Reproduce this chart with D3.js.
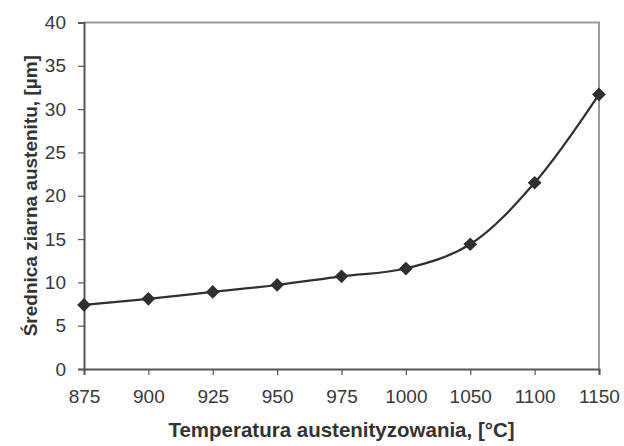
<!DOCTYPE html>
<html>
<head>
<meta charset="utf-8">
<script src="https://cdn.jsdelivr.net/npm/d3@7"></script>
<style>
  body { margin: 0; background: #fff; }
  svg { font-family: "Liberation Sans", Arial, sans-serif; }
</style>
</head>
<body>
<svg width="624" height="446"></svg>
<script>
// data
var temps = ['875', '900', '925', '950', '975', '1000', '1050', '1100', '1150']
var grain = [7.4, 8.1, 8.9, 9.7, 10.7, 11.6, 14.4, 21.5, 31.7]
var yTicks = [0, 5, 10, 15, 20, 25, 30, 35, 40]

var svg = d3.select('svg')
var mLeft = 84, mRight = 599, mTop = 22.5, mBottom = 369

var x = d3.scalePoint().domain(temps).range([mLeft, mRight])
var y = d3.scaleLinear().domain([0, 40]).range([mBottom, mTop])

// frame (top / right lighter)
svg.append('path')
  .attr('d', 'M' + mLeft + ',' + mTop + 'H' + mRight + 'V' + mBottom)
  .attr('fill', 'none')
  .attr('stroke', '#a09894')
  .attr('stroke-width', 2)

// y axis
var yAxis = svg.append('g')
  .attr('transform', 'translate(' + mLeft + ',0)')
  .call(d3.axisLeft(y).tickValues(yTicks).tickSize(6).tickPadding(12))
yAxis.select('.domain').attr('stroke', '#5a5452').attr('stroke-width', 2)
yAxis.selectAll('.tick line').attr('stroke', '#5a5452').attr('stroke-width', 1.2)
yAxis.selectAll('.tick text').attr('fill', '#383838').style('font-size', '19px')

// x axis
var xAxis = svg.append('g')
  .attr('transform', 'translate(0,' + mBottom + ')')
  .call(d3.axisBottom(x).tickSize(6).tickPadding(15))
xAxis.select('.domain').attr('stroke', '#5a5452').attr('stroke-width', 2)
xAxis.selectAll('.tick line').attr('stroke', '#5a5452').attr('stroke-width', 1.2)
xAxis.selectAll('.tick text').attr('fill', '#383838').style('font-size', '19px')

// smoothed line
var line = d3.line()
  .x((d, i) => x(temps[i]))
  .y((d) => y(d))
  .curve(d3.curveCatmullRom.alpha(0.5))

svg.append('path')
  .datum(grain)
  .attr('d', line)
  .attr('fill', 'none')
  .attr('stroke', '#2e2e33')
  .attr('stroke-width', 2.2)

// diamond markers
svg.selectAll('.pt')
  .data(grain)
  .enter()
  .append('path')
  .attr('class', 'pt')
  .attr('d', d3.symbol().type(d3.symbolDiamond2).size(120))
  .attr('transform', (d, i) => 'translate(' + x(temps[i]) + ',' + y(d) + ')')
  .attr('fill', '#2e2e33')

// axis titles
svg.append('text')
  .attr('x', (mLeft + mRight) / 2)
  .attr('y', 437)
  .attr('text-anchor', 'middle')
  .attr('font-weight', 'bold')
  .attr('font-size', '20.5px')
  .attr('fill', '#333')
  .text('Temperatura austenityzowania, [°C]')

svg.append('text')
  .attr('transform', 'translate(37,' + (mTop + mBottom) / 2 + ') rotate(-90)')
  .attr('text-anchor', 'middle')
  .attr('font-weight', 'bold')
  .attr('font-size', '19px')
  .attr('fill', '#333')
  .text('Średnica ziarna austenitu, [µm]')
</script>
</body>
</html>
